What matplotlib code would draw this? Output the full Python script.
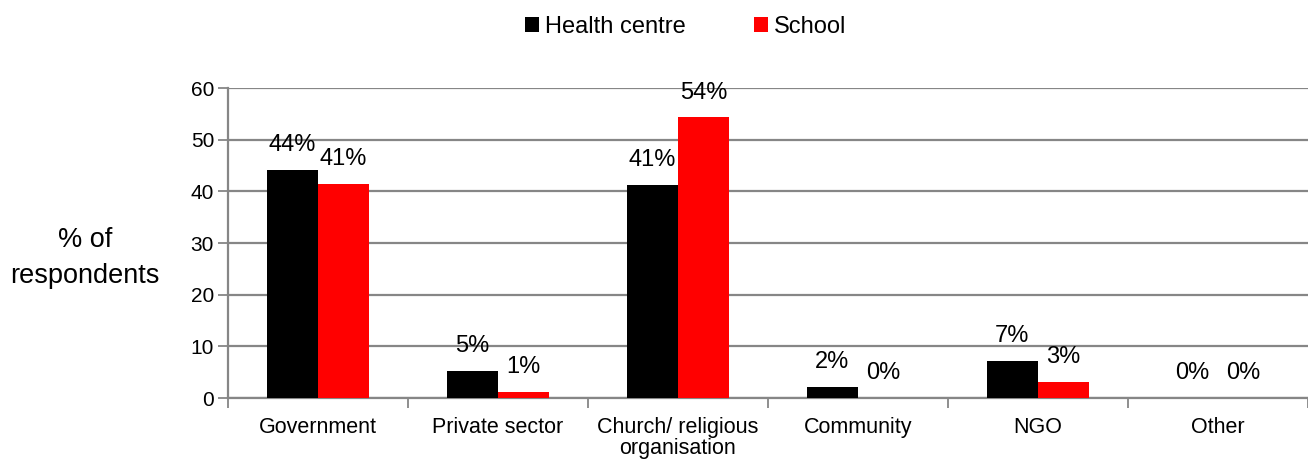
import matplotlib
matplotlib.use('Agg')
import matplotlib.pyplot as plt
import numpy as np

plt.rcParams['font.family'] = ['Liberation Sans', 'DejaVu Sans']

categories = ['Government', 'Private sector', 'Church/ religious\norganisation',
              'Community', 'NGO', 'Other']
health_centre = [44.2, 5.2, 41.3, 2.1, 7.2, 0.0]
school = [41.4, 1.2, 54.3, 0.0, 3.1, 0.0]

GRID = '#868686'

fig = plt.figure(figsize=(13.08, 4.65), dpi=100)
ax = fig.add_axes([228 / 1308, 1 - 398 / 465, 1080 / 1308, 310 / 465])

x = np.arange(len(categories))
w = 0.285
b1 = ax.bar(x - w / 2, health_centre, w, color='black', label='Health centre', zorder=3)
b2 = ax.bar(x + w / 2, school, w, color='#ff0000', label='School', zorder=3)

# percentage labels above each bar
for bars in (b1, b2):
    for rect in bars:
        h = rect.get_height()
        ax.annotate(f'{h:.0f}%', (rect.get_x() + rect.get_width() / 2, h),
                    xytext=(0, 10), textcoords='offset points',
                    ha='center', va='bottom', fontsize=17, zorder=4)

ax.set_xlim(-0.5, len(categories) - 0.5)
ax.set_ylim(0, 60)
ax.set_yticks(range(0, 61, 10))
ax.yaxis.grid(True, color=GRID, linewidth=1.6, zorder=0)

ax.set_xticks(x)
ax.set_xticklabels(categories, fontsize=15.5, linespacing=1.0)
ax.set_xticks(np.arange(-0.5, len(categories), 1.0), minor=True)
ax.tick_params(axis='x', which='major', length=0, pad=14)
ax.tick_params(axis='x', which='minor', length=7, width=1.3, color=GRID)
ax.tick_params(axis='y', length=7, width=1.3, color=GRID, labelsize=15, pad=3)

for side in ('top', 'right'):
    ax.spines[side].set_visible(False)
for side in ('left', 'bottom'):
    ax.spines[side].set_color(GRID)
    ax.spines[side].set_linewidth(1.6)

fig.text(85 / 1308, 1 - 258 / 465, '% of\nrespondents', ha='center', va='center',
         fontsize=19.5, linespacing=1.5)

fig.legend(loc='upper center', bbox_to_anchor=(0.524, 1.012), ncol=2, frameon=False,
           fontsize=17, handlelength=0.6, handleheight=0.6, handletextpad=0.25,
           columnspacing=2.9)

fig.savefig('out.png', dpi=100)
